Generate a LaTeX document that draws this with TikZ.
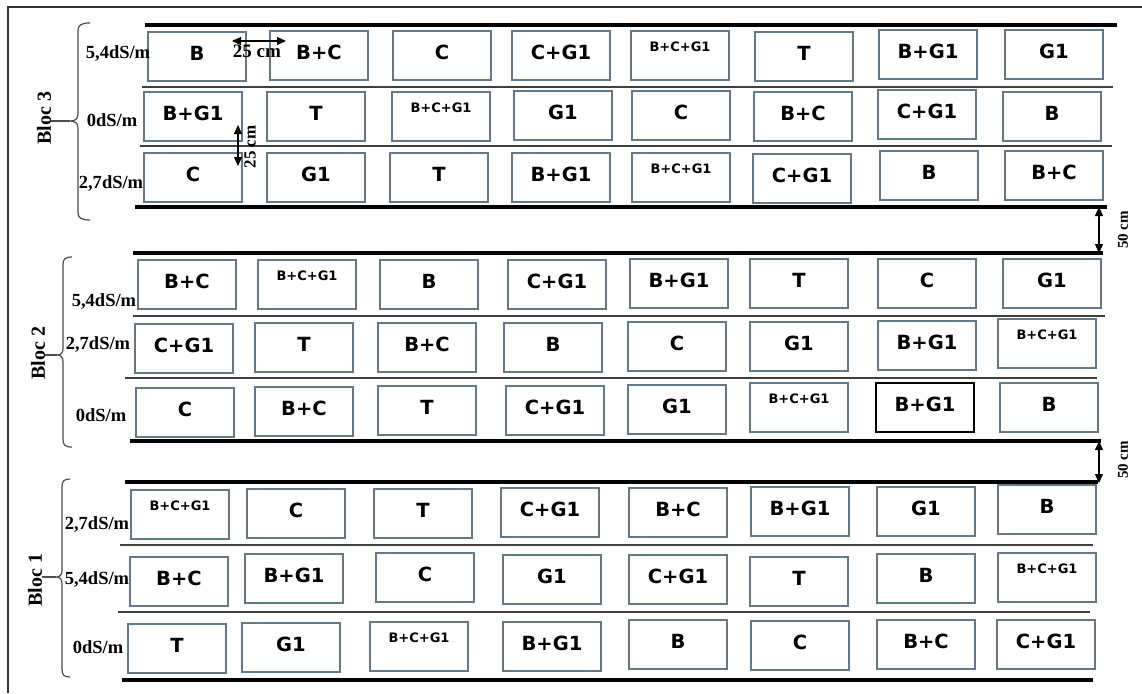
\documentclass[tikz,border=0pt]{standalone}
\usepackage{fontspec}
\setmainfont{Liberation Serif}
\setsansfont{DejaVu Sans}
\usetikzlibrary{arrows.meta}
\definecolor{boxc}{RGB}{100,120,135}
\newcommand\cel[5][cel]{\node[#1] (#2) at (#3+49,#4+24.5) {#5};}
\begin{document}
\begin{tikzpicture}[x=1pt,y=-1pt,
  cel/.style={draw=boxc, line width=1.15pt, rectangle, minimum width=98pt, minimum height=49pt, inner sep=0pt,
    font=\sffamily\bfseries\fontsize{19.5}{20}\selectfont, text height=14pt, text depth=6pt},
  cels/.style={cel, font=\sffamily\bfseries\fontsize{13}{14}\selectfont, text height=10pt, text depth=18pt},
  celk/.style={cel, draw=black, line width=1.3pt},
  thk/.style={line width=4pt, black},
  thn/.style={line width=1.3pt, black!75},
  rowlab/.style={font=\bfseries\fontsize{18.5}{18.5}\selectfont, inner sep=0pt, anchor=base},
  bloclab/.style={font=\bfseries\fontsize{20}{20}\selectfont, rotate=90, inner sep=0pt},
  brc/.style={line width=1.2pt, black!70},
  dim/.style={line width=1.2pt, {Triangle[length=9pt,width=8pt]}-{Triangle[length=9pt,width=8pt]}},
  dimlab/.style={font=\bfseries\fontsize{#1}{#1}\selectfont, inner sep=0pt},
  dimlab/.default=19
]
\useasboundingbox (0,0) rectangle (1142,693);
% frame
\draw[line width=2pt, black!80] (8,693) -- (8,7) -- (1142,7);

% ---------------- Bloc 3
\draw[thk] (145,25) -- (1117,25);
\draw[thn] (142,87) -- (1113,87);
\draw[thn] (140,146) -- (1112,146);
\draw[thk] (135,207) -- (1107,207);
\cel{b3a1}{148}{32}{B}
\cel{b3a2}{270}{31}{B+C}
\cel{b3a3}{393}{31}{C}
\cel{b3a4}{512}{31}{C+G1}
\cel[cels]{b3a5}{631}{31}{B+C+G1}
\cel{b3a6}{755}{32}{T}
\cel{b3a7}{879}{30}{B+G1}
\cel{b3a8}{1005}{30}{G1}
\cel{b3b1}{144}{92}{B+G1}
\cel{b3b2}{267}{92}{T}
\cel[cels]{b3b3}{392}{92}{B+C+G1}
\cel{b3b4}{514}{91}{G1}
\cel{b3b5}{632}{91}{C}
\cel{b3b6}{754}{92}{B+C}
\cel{b3b7}{878}{90}{C+G1}
\cel{b3b8}{1003}{92}{B}
\cel{b3c1}{144}{153}{C}
\cel{b3c2}{267}{153}{G1}
\cel{b3c3}{390}{153}{T}
\cel{b3c4}{512}{153}{B+G1}
\cel[cels]{b3c5}{632}{153}{B+C+G1}
\cel{b3c6}{753}{154}{C+G1}
\cel{b3c7}{880}{151}{B}
\cel{b3c8}{1005}{151}{B+C}
\node[rowlab] (l3a) at (118,59) {5,4dS/m};
\node[rowlab] (l3b) at (112,126) {0dS/m};
\node[rowlab] (l3c) at (111,188) {2,7dS/m};
\draw[brc] (90,23) .. controls (81,23) and (78,25) .. (78,31) -- (78,114)
  .. controls (78,119) and (75,121) .. (70,121) .. controls (75,121) and (78,123) .. (78,128)
  -- (78,212) .. controls (78,218) and (81,220) .. (90,220);
\coordinate (t3) at (70,121);
\node[bloclab] (bl3) at (44,118) {Bloc 3};
\draw[brc] (bl3.south |- t3) -- (t3);
% 25 cm arrows
\coordinate (h1) at (232,41); \coordinate (h2) at (286,41);
\draw[dim] (h1) -- (h2);
\node[dimlab, anchor=base] (d25a) at (257,58) {25 cm};
\coordinate (v1) at (238,125); \coordinate (v2) at (238,166);
\draw[dim] (v1) -- (v2);
\node[dimlab=17, rotate=90] (d25b) at (250,147) {25 cm};

% 50 cm arrows
\coordinate (g1) at (1099,207); \coordinate (g2) at (1099,253);
\draw[dim] (g1) -- (g2);
\node[dimlab=15, rotate=90] (d50a) at (1123,230) {50 cm};
\coordinate (g3) at (1099,441); \coordinate (g4) at (1099,483);
\draw[dim] (g3) -- (g4);
\node[dimlab=15, rotate=90] (d50b) at (1123,460) {50 cm};

% ---------------- Bloc 2
\draw[thk] (133,253) -- (1103,253);
\draw[thn] (133,316) -- (1105,316);
\draw[thn] (125,378) -- (1097,378);
\draw[thk] (130,441) -- (1101,441);
\cel{b2a1}{138}{260}{B+C}
\cel[cels]{b2a2}{258}{260}{B+C+G1}
\cel{b2a3}{380}{260}{B}
\cel{b2a4}{508}{260}{C+G1}
\cel{b2a5}{630}{259}{B+G1}
\cel{b2a6}{750}{259}{T}
\cel{b2a7}{878}{259}{C}
\cel{b2a8}{1003}{259}{G1}
\cel{b2b1}{135}{324}{C+G1}
\cel{b2b2}{255}{323}{T}
\cel{b2b3}{378}{323}{B+C}
\cel{b2b4}{504}{323}{B}
\cel{b2b5}{628}{322}{C}
\cel{b2b6}{750}{322}{G1}
\cel{b2b7}{878}{321}{B+G1}
\cel[cels]{b2b8}{998}{319}{B+C+G1}
\cel{b2c1}{136}{388}{C}
\cel{b2c2}{255}{387}{B+C}
\cel{b2c3}{378}{386}{T}
\cel{b2c4}{506}{386}{C+G1}
\cel{b2c5}{628}{385}{G1}
\cel[cels]{b2c6}{750}{383}{B+C+G1}
\cel[celk]{b2c7}{876}{383}{B+G1}
\cel{b2c8}{1000}{383}{B}
\node[rowlab] (l2a) at (104,306) {5,4dS/m};
\node[rowlab] (l2b) at (98,349) {2,7dS/m};
\node[rowlab] (l2c) at (101,421) {0dS/m};
\draw[brc] (72,257) .. controls (65,257) and (63,259) .. (63,265) -- (63,348)
  .. controls (63,353) and (61,355) .. (57,355) .. controls (61,355) and (63,357) .. (63,362)
  -- (63,439) .. controls (63,445) and (65,447) .. (72,447);
\coordinate (t2) at (57,355);
\node[bloclab] (bl2) at (38,353) {Bloc 2};
\draw[brc] (bl2.south |- t2) -- (t2);

% ---------------- Bloc 1
\draw[thk] (125,482) -- (1098,482);
\draw[thn] (120,545) -- (1093,545);
\draw[thn] (118,612) -- (1090,612);
\draw[thk] (122,680) -- (1093,680);
\cel[cels]{b1a1}{131}{490}{B+C+G1}
\cel{b1a2}{247}{489}{C}
\cel{b1a3}{374}{489}{T}
\cel{b1a4}{501}{488}{C+G1}
\cel{b1a5}{629}{488}{B+C}
\cel{b1a6}{751}{487}{B+G1}
\cel{b1a7}{877}{487}{G1}
\cel{b1a8}{998}{485}{B}
\cel{b1b1}{130}{557}{B+C}
\cel{b1b2}{245}{554}{B+G1}
\cel{b1b3}{376}{553}{C}
\cel{b1b4}{503}{555}{G1}
\cel{b1b5}{629}{555}{C+G1}
\cel{b1b6}{750}{557}{T}
\cel{b1b7}{877}{554}{B}
\cel[cels]{b1b8}{998}{553}{B+C+G1}
\cel{b1c1}{128}{624}{T}
\cel{b1c2}{242}{623}{G1}
\cel[cels]{b1c3}{370}{622}{B+C+G1}
\cel{b1c4}{503}{622}{B+G1}
\cel{b1c5}{629}{620}{B}
\cel{b1c6}{751}{621}{C}
\cel{b1c7}{877}{620}{B+C}
\cel{b1c8}{997}{620}{C+G1}
\node[rowlab] (l1a) at (97,529) {2,7dS/m};
\node[rowlab] (l1b) at (97,584) {5,4dS/m};
\node[rowlab] (l1c) at (98,653) {0dS/m};
\draw[brc] (70,479) .. controls (64,479) and (62,481) .. (62,487) -- (62,570)
  .. controls (62,575) and (60,577) .. (56,577) .. controls (60,577) and (62,579) .. (62,584)
  -- (62,669) .. controls (62,675) and (64,677) .. (70,677);
\coordinate (t1) at (56,577);
\node[bloclab] (bl1) at (35,580) {Bloc 1};
\draw[brc] (bl1.south |- t1) -- (t1);
\end{tikzpicture}
\end{document}
